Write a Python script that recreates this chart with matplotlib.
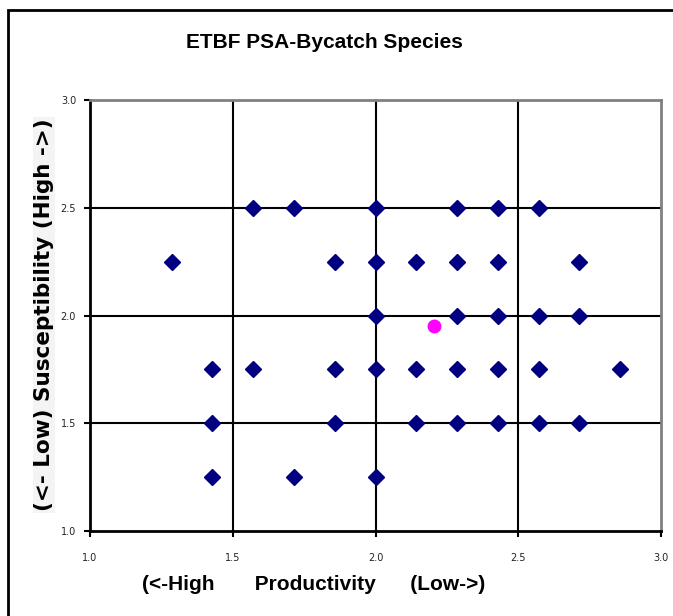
import matplotlib.pyplot as plt
from matplotlib.patches import Rectangle

# species scores (productivity, susceptibility)
prod = [1.571, 1.714, 2.0, 2.286, 2.429, 2.571,
        1.286, 1.857, 2.0, 2.143, 2.286, 2.429, 2.714,
        2.0, 2.286, 2.429, 2.571, 2.714,
        1.429, 1.571, 1.857, 2.0, 2.143, 2.286, 2.429, 2.571, 2.857,
        1.429, 1.857, 2.143, 2.286, 2.429, 2.571, 2.714,
        1.429, 1.714, 2.0]
susc = [2.5] * 6 + [2.25] * 7 + [2.0] * 5 + [1.75] * 9 + [1.5] * 7 + [1.25] * 3

# average point
avg_prod = [2.205]
avg_susc = [1.95]

ticks = [1.0, 1.5, 2.0, 2.5, 3.0]
tick_labels = ['1.0', '1.5', '2.0', '2.5', '3.0']

fig = plt.figure(figsize=(6.73, 6.16), dpi=100)
W, H = 673, 616

# frame around the whole chart (right and bottom edges fall outside the image)
fig.patches.append(Rectangle((8 / W, -0.5), 2, 1.5 - 10 / H, transform=fig.transFigure,
                             fill=False, edgecolor='black', linewidth=2))

ax = fig.add_axes([90 / W, (H - 531) / H, (661 - 90) / W, (531 - 100) / H])
ax.set_xlim(1.0, 3.0)
ax.set_ylim(1.0, 3.0)

for v in [1.5, 2.0, 2.5]:
    ax.axvline(v, color='black', linewidth=1.5, zorder=1)
    ax.axhline(v, color='black', linewidth=1.5, zorder=1)

ax.plot(prod, susc, linestyle='none', marker='D', markersize=8,
        color='#000080', zorder=3)
ax.plot(avg_prod, avg_susc, linestyle='none', marker='o', markersize=9,
        color='#FF00FF', zorder=3)

ax.set_xticks(ticks)
ax.set_xticklabels(tick_labels)
ax.set_yticks(ticks)
ax.set_yticklabels(tick_labels)
ax.tick_params(direction='out', length=4, width=1.5, labelsize=7, pad=12,
               colors='black', labelcolor='#222222')
ax.tick_params(axis='y', pad=6)

for s in ['left', 'bottom']:
    ax.spines[s].set_linewidth(2)
    ax.spines[s].set_color('black')
for s in ['top', 'right']:
    ax.spines[s].set_linewidth(2)
    ax.spines[s].set_color('#808080')

fig.text(324 / W, 1 - 42 / H, 'ETBF PSA-Bycatch Species', ha='center', va='center',
         fontsize=15, fontweight='bold', family='Liberation Sans')
fig.text(314 / W, 1 - 585 / H, '(<-High       Productivity      (Low->)',
         ha='center', va='center', fontsize=15, fontweight='bold',
         family='Liberation Sans')
fig.text(44 / W, 1 - 315 / H, '(<- Low) Susceptibility (High ->)', rotation=90,
         ha='center', va='center', fontsize=15.5, fontweight='bold',
         family='DejaVu Sans',
         bbox=dict(facecolor='#f4f4f4', edgecolor='none', pad=1))

fig.savefig('out.png', dpi=100)
